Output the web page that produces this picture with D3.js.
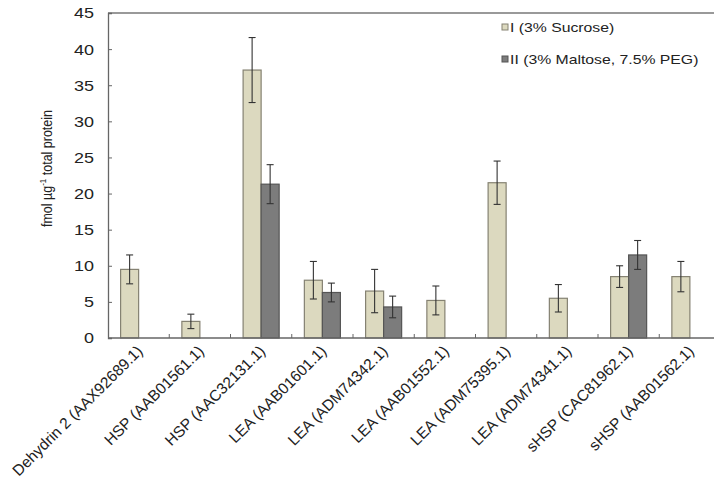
<!DOCTYPE html>
<html>
<head>
<meta charset="utf-8">
<script src="https://cdn.jsdelivr.net/npm/d3@7/dist/d3.min.js"></script>
<style>
  html, body { margin: 0; padding: 0; background: #fff; }
  svg { display: block; font-family: "Liberation Sans", Arial, sans-serif; }
</style>
</head>
<body>
<svg id="chart" width="714" height="487"></svg>
<script>
// Protein categories along the x axis
const categories = [
  "Dehydrin 2 (AAX92689.1)",
  "HSP (AAB01561.1)",
  "HSP (AAC32131.1)",
  "LEA (AAB01601.1)",
  "LEA (ADM74342.1)",
  "LEA (AAB01552.1)",
  "LEA (ADM75395.1)",
  "LEA (ADM74341.1)",
  "sHSP (CAC81962.1)",
  "sHSP (AAB01562.1)"
];

const seriesNames = ["I (3% Sucrose)", "II (3% Maltose, 7.5% PEG)"];

// Mean amounts (fmol per µg total protein); null = not detected
const sucrose = [9.5, 2.3, 37.1, 8.0, 6.5, 5.2, 21.5, 5.5, 8.5, 8.5];
const maltose = [null, null, 21.3, 6.3, 4.3, null, null, null, 11.5, null];

// Error bar half-widths
const sucroseErr = [2.0, 1.0, 4.5, 2.6, 3.0, 2.0, 3.0, 1.9, 1.5, 2.1];
const maltoseErr = [null, null, 2.7, 1.3, 1.5, null, null, null, 2.0, null];

const yTicks = [0, 5, 10, 15, 20, 25, 30, 35, 40, 45];

const fills = ["#dcd9bf", "#7c7c7c"];
const strokes = ["#858272", "#555555"];

// Text is drawn slightly wide
const stretch = 1.16;

const svg = d3.select("#chart");
const plotLeft = 108, plotRight = 720.5, plotTop = 13, plotBottom = 338;

const x = d3.scaleBand().domain(categories).range([plotLeft, plotRight]).padding(0);
const xs = d3.scaleBand().domain(seriesNames).range([0, x.bandwidth()])
  .paddingInner(0).paddingOuter(0.7);
const y = d3.scaleLinear().domain([0, 45]).range([plotBottom, plotTop]);

const rows = [];
categories.forEach((c, i) => {
  rows.push({ cat: c, s: seriesNames[0], v: sucrose[i], e: sucroseErr[i], k: 0 });
  rows.push({ cat: c, s: seriesNames[1], v: maltose[i], e: maltoseErr[i], k: 1 });
});
const present = rows.filter(d => d.v !== null);

// Frame: top border line
svg.append("line")
  .attr("x1", plotLeft).attr("x2", plotRight).attr("y1", plotTop).attr("y2", plotTop)
  .attr("stroke", "#777").attr("stroke-width", 1.3);

// Y axis with inward ticks
const yAxis = svg.append("g").attr("transform", `translate(${plotLeft},0)`)
  .call(d3.axisLeft(y).tickValues(yTicks).tickSize(-4).tickPadding(14));
yAxis.select(".domain").attr("stroke", "#666").attr("stroke-width", 1.3);
yAxis.selectAll(".tick line").attr("stroke", "#666");
yAxis.selectAll("text")
  .attr("x", 0)
  .attr("transform", `translate(-14,0) scale(${stretch},1)`)
  .attr("font-size", 15.5).attr("fill", "#222")
  .attr("font-family", "'Liberation Sans', Arial, sans-serif");

// Bars
svg.append("g").selectAll("rect").data(present).join("rect")
  .attr("x", d => x(d.cat) + xs(d.s))
  .attr("width", xs.bandwidth())
  .attr("y", d => y(d.v))
  .attr("height", d => y(0) - y(d.v))
  .attr("fill", d => fills[d.k])
  .attr("stroke", d => strokes[d.k])
  .attr("stroke-width", 1.2);

// Error bars
const eb = svg.append("g").attr("stroke", "#333").attr("stroke-width", 1.1);
present.forEach(d => {
  const cx = x(d.cat) + xs(d.s) + xs.bandwidth() / 2;
  eb.append("line").attr("x1", cx).attr("x2", cx)
    .attr("y1", y(d.v + d.e)).attr("y2", y(d.v - d.e));
  [d.v + d.e, d.v - d.e].forEach(t => {
    eb.append("line").attr("x1", cx - 3.5).attr("x2", cx + 3.5)
      .attr("y1", y(t)).attr("y2", y(t));
  });
});

// X axis: baseline, category separators and rotated labels
svg.append("line")
  .attr("x1", plotLeft).attr("x2", plotRight).attr("y1", plotBottom).attr("y2", plotBottom)
  .attr("stroke", "#666").attr("stroke-width", 1.3);
svg.append("g").selectAll("line").data(categories.slice(1)).join("line")
  .attr("x1", d => x(d)).attr("x2", d => x(d))
  .attr("y1", plotBottom).attr("y2", plotBottom - 4)
  .attr("stroke", "#666");
svg.append("g").selectAll("text").data(categories).join("text")
  .attr("transform", d => `translate(${x(d) + x.bandwidth() / 2 + 5},${plotBottom + 14}) rotate(-45)`)
  .attr("text-anchor", "end")
  .attr("font-size", 15.5)
  .attr("fill", "#222")
  .text(d => d);

// Y axis title
const yt = svg.append("text")
  .attr("transform", `translate(52,${(plotTop + plotBottom) / 2 - 7}) scale(${stretch},1) rotate(-90)`)
  .attr("text-anchor", "middle")
  .attr("font-size", 12.5)
  .attr("fill", "#222");
yt.append("tspan").text("fmol µg");
yt.append("tspan").attr("font-size", 8).attr("dy", -5).text("-1");
yt.append("tspan").attr("dy", 5).text(" total protein");

// Legend
const lg = svg.append("g").attr("transform", "translate(502,0)");
seriesNames.forEach((s, i) => {
  const cy = 27 + i * 32;
  lg.append("rect").attr("x", 0).attr("y", cy - 3).attr("width", 6).attr("height", 6)
    .attr("fill", fills[i]).attr("stroke", strokes[i]).attr("stroke-width", 1);
  lg.append("text")
    .attr("transform", `translate(8,${cy + 5}) scale(${stretch},1)`)
    .attr("font-size", 13.6).attr("fill", "#222").text(s);
});
</script>
</body>
</html>
